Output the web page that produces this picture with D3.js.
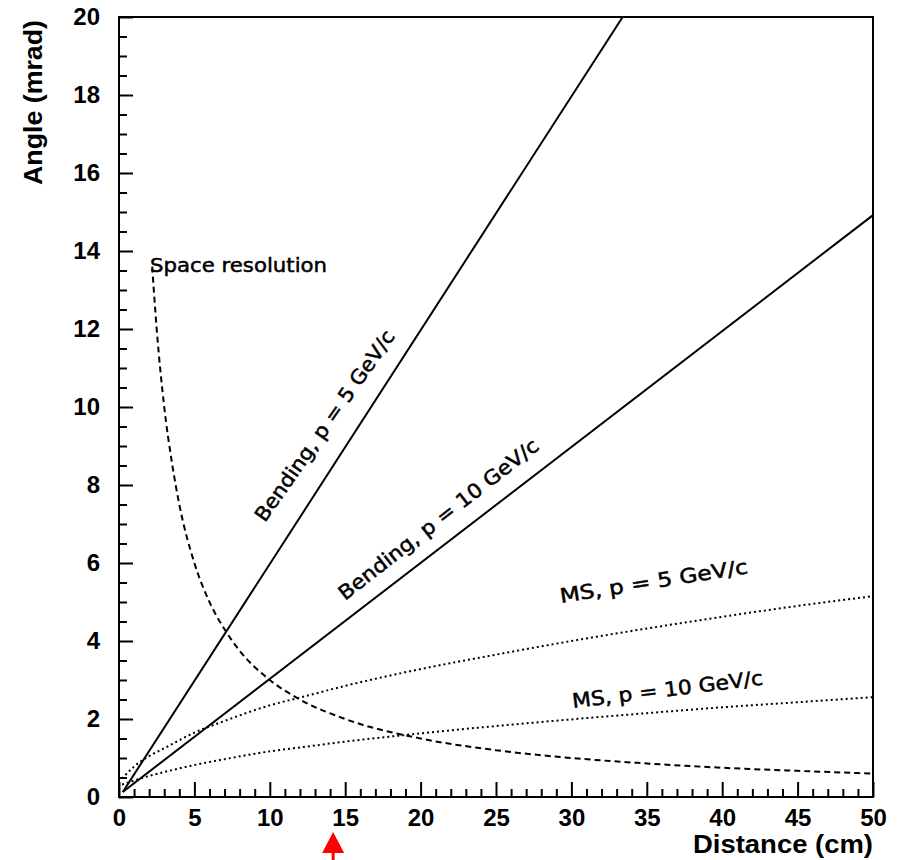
<!DOCTYPE html>
<html>
<head>
<meta charset="utf-8">
<script src="https://cdn.jsdelivr.net/npm/d3@7"></script>
<style>
  html, body { margin: 0; padding: 0; background: #fff; }
  svg { display: block; }
  .tick text { font-family: "Liberation Sans", Arial, sans-serif; font-weight: bold; font-size: 24px; fill: #000; }
  .ann { font-family: "DejaVu Sans", sans-serif; font-size: 20px; fill: #000; stroke: #000; stroke-width: 0.5px; }
</style>
</head>
<body>
<svg id="chart" width="902" height="860"></svg>
<script>
// Axis ranges and ticks
const xDomain = [0, 50];
const yDomain = [0, 20];
const xMajorTicks = [0, 5, 10, 15, 20, 25, 30, 35, 40, 45, 50];
const yMajorTicks = [0, 2, 4, 6, 8, 10, 12, 14, 16, 18, 20];

// Bending angle vs distance (straight lines)
const bend5X = [0.25, 33.4];
const bend5Y = [0.13, 20];
const bend10X = [0.25, 50];
const bend10Y = [0.13, 14.92];

// Multiple scattering angle vs distance
const msX = [0.2, 1, 2, 3, 5, 7, 10, 12, 15, 20, 25, 30, 35, 40, 45, 50];
const ms5Y = [0.47, 0.78, 1.05, 1.25, 1.65, 1.95, 2.35, 2.55, 2.85, 3.28, 3.65, 4.0, 4.32, 4.62, 4.9, 5.15];
const ms10Y = [0.32, 0.42, 0.54, 0.64, 0.82, 0.97, 1.17, 1.27, 1.42, 1.63, 1.82, 1.99, 2.15, 2.3, 2.43, 2.56];

// Angular error from space resolution
const resX = [2.2, 2.5, 3, 3.5, 4, 5, 6, 7, 8, 10, 12, 15, 20, 25, 30, 35, 40, 45, 50];
const resY = [13.6, 12.0, 10.0, 8.6, 7.5, 6.0, 5.0, 4.3, 3.75, 3.0, 2.5, 2.0, 1.5, 1.2, 1.0, 0.86, 0.75, 0.67, 0.6];

// Marked distance below the axis
const markerX = 14.2;

const svg = d3.select("#chart");
const mLeft = 119, mRight = 873, mTop = 17, mBottom = 797;

const x = d3.scaleLinear().domain(xDomain).range([mLeft, mRight]);
const y = d3.scaleLinear().domain(yDomain).range([mBottom, mTop]);

// Minor ticks
const xMinor = d3.range(0, 50.001, 1).filter(v => v % 5 !== 0);
const yMinor = d3.range(0, 20.001, 0.5).filter(v => Math.abs(v % 2) > 1e-9);

svg.append("g")
  .attr("transform", `translate(0,${mBottom})`)
  .call(d3.axisBottom(x).tickValues(xMinor).tickSize(-8).tickFormat(""))
  .call(g => g.select(".domain").remove())
  .selectAll("line").attr("stroke", "#000").attr("stroke-width", 2);

svg.append("g")
  .attr("transform", `translate(${mLeft},0)`)
  .call(d3.axisLeft(y).tickValues(yMinor).tickSize(-8).tickFormat(""))
  .call(g => g.select(".domain").remove())
  .selectAll("line").attr("stroke", "#000").attr("stroke-width", 2);

const xAxis = svg.append("g")
  .attr("transform", `translate(0,${mBottom})`)
  .call(d3.axisBottom(x).tickValues(xMajorTicks).tickSize(-15).tickPadding(12).tickFormat(d3.format("d")));
xAxis.select(".domain").remove();
xAxis.selectAll("line").attr("stroke", "#000").attr("stroke-width", 2);

const yAxis = svg.append("g")
  .attr("transform", `translate(${mLeft},0)`)
  .call(d3.axisLeft(y).tickValues(yMajorTicks).tickSize(-14).tickPadding(19).tickFormat(d3.format("d")));
yAxis.select(".domain").remove();
yAxis.selectAll("line").attr("stroke", "#000").attr("stroke-width", 2);

// Frame
svg.append("rect")
  .attr("x", mLeft).attr("y", mTop)
  .attr("width", mRight - mLeft).attr("height", mBottom - mTop)
  .attr("fill", "none").attr("stroke", "#000").attr("stroke-width", 2);

// Curves
svg.append("clipPath").attr("id", "plotClip")
  .append("rect").attr("x", mLeft).attr("y", mTop).attr("width", mRight - mLeft).attr("height", mBottom - mTop);

const plot = svg.append("g").attr("clip-path", "url(#plotClip)");
const line = d3.line().x(d => x(d[0])).y(d => y(d[1]));
const zip = (xs, ys) => xs.map((v, i) => [v, ys[i]]);

plot.append("path").datum(zip(bend5X, bend5Y)).attr("d", line)
  .attr("fill", "none").attr("stroke", "#000").attr("stroke-width", 2);
plot.append("path").datum(zip(bend10X, bend10Y)).attr("d", line)
  .attr("fill", "none").attr("stroke", "#000").attr("stroke-width", 2);

const smooth = d3.line().x(d => x(d[0])).y(d => y(d[1])).curve(d3.curveMonotoneX);
plot.append("path").datum(zip(msX, ms5Y)).attr("d", smooth)
  .attr("fill", "none").attr("stroke", "#000").attr("stroke-width", 2).attr("stroke-dasharray", "2,3");
plot.append("path").datum(zip(msX, ms10Y)).attr("d", smooth)
  .attr("fill", "none").attr("stroke", "#000").attr("stroke-width", 2).attr("stroke-dasharray", "2,3");
plot.append("path").datum(zip(resX, resY)).attr("d", smooth)
  .attr("fill", "none").attr("stroke", "#000").attr("stroke-width", 2).attr("stroke-dasharray", "6,4");

// Curve labels
function label(text, px, py, angle, len) {
  svg.append("text").attr("class", "ann")
    .attr("transform", `translate(${px},${py}) rotate(${angle})`)
    .attr("textLength", len).attr("lengthAdjust", "spacingAndGlyphs")
    .text(text);
}
label("Space resolution", 150, 272, 0, 177);
label("Bending, p = 5 GeV/c", 265, 523, -55, 228);
label("Bending, p = 10 GeV/c", 345, 601, -38, 248);
label("MS, p = 5 GeV/c", 561, 603, -9, 190);
label("MS, p = 10 GeV/c", 573, 708, -7, 192);

// Axis titles
svg.append("text")
  .attr("x", mRight).attr("y", 853)
  .attr("text-anchor", "end")
  .attr("font-family", "Liberation Sans, Arial, sans-serif")
  .attr("font-weight", "bold").attr("font-size", 26)
  .attr("textLength", 180).attr("lengthAdjust", "spacingAndGlyphs")
  .text("Distance (cm)");

svg.append("text")
  .attr("transform", `translate(42,20) rotate(-90)`)
  .attr("text-anchor", "end")
  .attr("font-family", "Liberation Sans, Arial, sans-serif")
  .attr("font-weight", "bold").attr("font-size", 26)
  .attr("textLength", 165).attr("lengthAdjust", "spacingAndGlyphs")
  .text("Angle (mrad)");

// Red marker arrow
const mx = x(markerX);
svg.append("path")
  .attr("d", `M${mx},832 L${mx - 11},853 L${mx + 11},853 Z`)
  .attr("fill", "#ff0000");
svg.append("rect")
  .attr("x", mx - 1.5).attr("y", 852).attr("width", 3).attr("height", 8)
  .attr("fill", "#ff0000");
</script>
</body>
</html>
